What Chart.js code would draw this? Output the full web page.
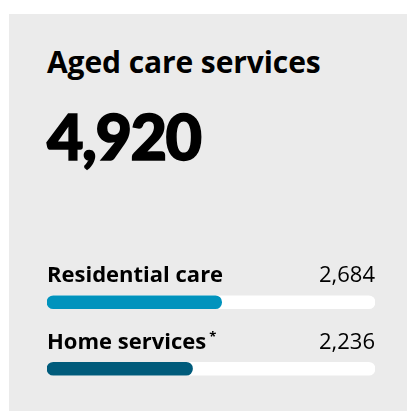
<!DOCTYPE html>
<html>
<head>
<meta charset="utf-8">
<script src="https://cdn.jsdelivr.net/npm/chart.js@4/dist/chart.umd.min.js"></script>
<style>
  html, body { margin: 0; padding: 0; background: #fff; }
  body { width: 407px; height: 411px; position: relative; overflow: hidden; }
  .card {
    position: absolute; left: 9px; top: 14px; width: 398px; height: 397px;
    background: #ebebeb;
    font-family: "Open Sans", Lato, sans-serif;
    color: #000;
  }
  .title {
    position: absolute; left: 38px; top: 27px;
    font-size: 30px; font-weight: 700; white-space: nowrap; letter-spacing: -0.1px;
  }
  .total {
    position: absolute; left: 38px; top: 84px;
    font-family: Lato, sans-serif;
    font-size: 63px; font-weight: 900; white-space: nowrap; letter-spacing: -1.5px;
    -webkit-text-stroke: 1.6px #000;
  }
  #bars { position: absolute; left: 38px; top: 238px; }
</style>
</head>
<body>
<div class="card">
  <div class="title">Aged care services</div>
  <div class="total" id="total"></div>
  <canvas id="bars" width="328" height="150"></canvas>
</div>
<script>
// Service types and counts
const categories = ['Residential care', 'Home services'];
const notes = ['', '*'];
const counts = [2684, 2236];
const barColours = ['#0093bd', '#005b7b'];
const scaleMax = 5040;

const total = counts.reduce((a, b) => a + b, 0);
document.getElementById('total').textContent = total.toLocaleString('en-US');

// Draws the name above each bar and its count on the right
const rowLabels = {
  id: 'rowLabels',
  afterDatasetsDraw(chart) {
    const ctx = chart.ctx;
    const area = chart.chartArea;
    const meta = chart.getDatasetMeta(0);
    ctx.save();
    ctx.fillStyle = '#000';
    ctx.textBaseline = 'alphabetic';
    meta.data.forEach((bar, i) => {
      const y = bar.y - 20;
      ctx.font = '700 22px "Open Sans", Lato, sans-serif';
      ctx.textAlign = 'left';
      ctx.fillText(categories[i], area.left, y);
      if (notes[i]) {
        const w = ctx.measureText(categories[i]).width;
        ctx.font = '700 13px "Open Sans", Lato, sans-serif';
        ctx.fillText(notes[i], area.left + w + 3, y - 8);
      }
      ctx.font = '400 22px "Open Sans", Lato, sans-serif';
      ctx.textAlign = 'right';
      ctx.fillText(counts[i].toLocaleString('en-US'), area.right, y);
    });
    ctx.restore();
  }
};

new Chart(document.getElementById('bars'), {
  type: 'bar',
  data: {
    labels: categories,
    datasets: [
      {
        data: counts,
        backgroundColor: barColours,
        borderRadius: 7,
        borderSkipped: false,
        barThickness: 13,
        grouped: false
      },
      {
        // white track behind each bar
        data: categories.map(() => scaleMax),
        backgroundColor: '#ffffff',
        borderRadius: 7,
        borderSkipped: false,
        barThickness: 13,
        grouped: false
      }
    ]
  },
  options: {
    indexAxis: 'y',
    responsive: false,
    animation: false,
    layout: { padding: { top: 17, left: 0, right: 0, bottom: 0 } },
    scales: {
      x: { display: false, min: 0, max: scaleMax },
      y: { display: false }
    },
    plugins: {
      legend: { display: false },
      tooltip: { enabled: false }
    }
  },
  plugins: [rowLabels]
});
</script>
</body>
</html>
